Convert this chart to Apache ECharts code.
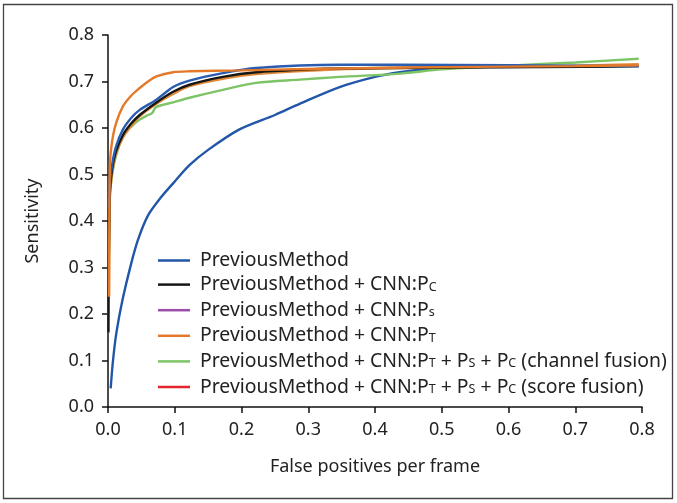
<!DOCTYPE html>
<html>
<head>
<meta charset="utf-8">
<script src="https://cdn.jsdelivr.net/npm/echarts@6/dist/echarts.min.js"></script>
<style>
html,body{margin:0;padding:0;background:#fff;}
#chart{width:677px;height:503px;}
</style>
</head>
<body>
<div id="chart"></div>
<script>
// ---- data ----
const xTicks = [0.0, 0.1, 0.2, 0.3, 0.4, 0.5, 0.6, 0.7, 0.8];
const yTicks = [0.0, 0.1, 0.2, 0.3, 0.4, 0.5, 0.6, 0.7, 0.8];

const seriesNames = [
  'PreviousMethod',
  'PreviousMethod + CNN:P_C',
  'PreviousMethod + CNN:P_s',
  'PreviousMethod + CNN:P_T',
  'PreviousMethod + CNN:P_T + P_S + P_C (channel fusion)',
  'PreviousMethod + CNN:P_T + P_S + P_C (score fusion)'
];

const previousMethod = [[0.004,0.04],[0.0075,0.10],[0.0126,0.16],[0.022,0.232],[0.035,0.31],[0.045,0.36],[0.06,0.412],[0.08,0.452],[0.1,0.485],[0.122,0.52],[0.15,0.553],[0.197,0.597],[0.25,0.628],[0.287,0.652],[0.347,0.688],[0.4,0.71],[0.437,0.72],[0.487,0.728],[0.55,0.731],[0.7,0.732],[0.795,0.733]];
const cnnPC = [[0.0005,0.16],[0.001,0.30],[0.002,0.40],[0.0026,0.46],[0.006,0.51],[0.012,0.55],[0.0225,0.585],[0.035,0.61],[0.0475,0.628],[0.0726,0.655],[0.0975,0.678],[0.122,0.693],[0.172,0.710],[0.222,0.720],[0.3,0.726],[0.347,0.728],[0.5,0.730],[0.65,0.731],[0.795,0.733]];
const cnnPs = [[0.001,0.43],[0.0026,0.475],[0.006,0.52],[0.012,0.56],[0.0225,0.597],[0.035,0.622],[0.0475,0.639],[0.0726,0.661],[0.0975,0.688],[0.122,0.702],[0.172,0.718],[0.222,0.729],[0.347,0.736],[0.437,0.736],[0.6,0.735],[0.795,0.733]];
const cnnPT = [[0.0015,0.237],[0.002,0.40],[0.003,0.525],[0.006,0.57],[0.012,0.61],[0.0225,0.647],[0.035,0.670],[0.0475,0.686],[0.06,0.700],[0.0726,0.711],[0.0975,0.720],[0.122,0.722],[0.2,0.724],[0.3,0.727],[0.4,0.729],[0.5,0.731],[0.6,0.732],[0.7,0.733],[0.795,0.735]];
const channelFusion = [[0.0005,0.16],[0.001,0.24],[0.0015,0.35],[0.0026,0.446],[0.006,0.50],[0.012,0.54],[0.0225,0.582],[0.035,0.603],[0.0475,0.618],[0.060,0.628],[0.066,0.632],[0.072,0.645],[0.0975,0.655],[0.122,0.665],[0.172,0.682],[0.222,0.697],[0.287,0.704],[0.347,0.710],[0.437,0.717],[0.5,0.726],[0.6,0.734],[0.7,0.741],[0.795,0.749]];
const scoreFusion = [[0.0015,0.239],[0.002,0.38],[0.0026,0.45],[0.006,0.50],[0.012,0.545],[0.0225,0.58],[0.035,0.605],[0.0475,0.625],[0.0726,0.652],[0.0975,0.673],[0.122,0.690],[0.172,0.706],[0.222,0.716],[0.347,0.726],[0.5,0.730],[0.65,0.733],[0.795,0.737]];

// ---- styles ----
const FONT = '"Noto Sans", sans-serif';
const TXT = '#222';
const lineColors = ['#2256a8', '#161616', '#2a5cb0', '#e5792a', '#7dc466', '#e08a3a'];
const legendColors = ['#2256a8', '#161616', '#9b4dab', '#e5792a', '#7dc466', '#e3242b'];
const dataList = [previousMethod, cnnPC, cnnPs, cnnPT, channelFusion, scoreFusion];
const drawOrder = [0, 4, 5, 1, 2, 3];

function fmtName(name) {
  const parts = name.split(/_(\w)/);
  let s = '{g|}';
  parts.forEach((p, i) => {
    if (!p) return;
    s += (i % 2 === 0) ? '{n|' + p + '}' : '{s|' + p + '}';
  });
  return s;
}

const chart = echarts.init(document.getElementById('chart'), null, {renderer: 'canvas'});
chart.setOption({
  animation: false,
  backgroundColor: '#fff',
  graphic: [{
    type: 'rect',
    shape: {x: 3.5, y: 4.5, width: 669, height: 494},
    style: {fill: 'none', stroke: '#444', lineWidth: 1.3},
    silent: true, z: 100
  }],
  grid: {left: 108, right: 35, top: 35, bottom: 96},
  xAxis: {
    type: 'value', min: 0, max: 0.8, interval: 0.1,
    name: 'False positives per frame', nameLocation: 'middle', nameGap: 51,
    nameTextStyle: {fontFamily: FONT, fontSize: 18, color: TXT},
    axisLine: {show: true, onZero: false, lineStyle: {color: '#111', width: 1.5}},
    axisTick: {show: true, inside: false, length: 6, lineStyle: {color: '#111', width: 1.5}},
    axisLabel: {fontFamily: FONT, fontSize: 18, color: TXT, margin: 14,
      formatter: v => xTicks.includes(+v.toFixed(1)) ? v.toFixed(1) : ''},
    splitLine: {show: false}
  },
  yAxis: {
    type: 'value', min: 0, max: 0.8, interval: 0.1,
    name: 'Sensitivity', nameLocation: 'middle', nameGap: 66,
    nameTextStyle: {fontFamily: FONT, fontSize: 18, color: TXT},
    axisLine: {show: true, onZero: false, lineStyle: {color: '#111', width: 1.5}},
    axisTick: {show: true, inside: false, length: 6, lineStyle: {color: '#111', width: 1.5}},
    axisLabel: {fontFamily: FONT, fontSize: 18, color: TXT, margin: 14,
      formatter: v => yTicks.includes(+v.toFixed(1)) ? v.toFixed(1) : ''},
    splitLine: {show: false}
  },
  legend: {
    orient: 'vertical', left: 158, top: 251, padding: 0,
    itemWidth: 32, itemHeight: 2.5, itemGap: 5.1, icon: 'rect',
    data: seriesNames.map((n, i) => ({name: n, itemStyle: {color: legendColors[i]}})),
    formatter: fmtName,
    textStyle: {
      fontFamily: FONT, color: TXT,
      rich: {
        g: {width: 5},
        n: {fontFamily: FONT, fontSize: 19.4, color: TXT, lineHeight: 22},
        s: {fontFamily: FONT, fontSize: 12.5, color: TXT, lineHeight: 22, verticalAlign: 'bottom', padding: [0, 0, 2, 0]}
      }
    }
  },
  series: drawOrder.map(i => ({
    name: seriesNames[i],
    type: 'line',
    data: dataList[i],
    showSymbol: false,
    smooth: 0.3,
    lineStyle: {color: lineColors[i], width: 2.4},
    itemStyle: {color: lineColors[i]},
    emphasis: {disabled: true}
  }))
});
</script>
</body>
</html>
